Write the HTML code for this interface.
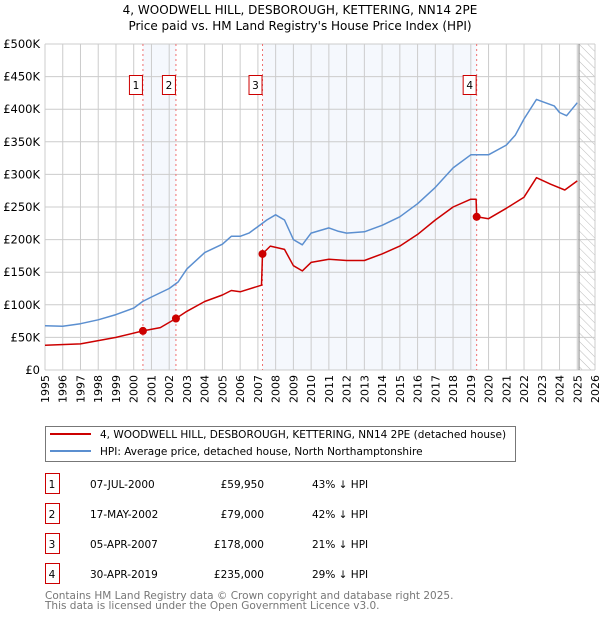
<!DOCTYPE html>
<html><head><meta charset="utf-8"><style>
body{margin:0;background:#fff;font-family:"DejaVu Sans","Liberation Sans",sans-serif;}
svg text{font-family:"DejaVu Sans","Liberation Sans",sans-serif;}
</style></head><body>
<svg width="600" height="620" viewBox="0 0 600 620">
<defs><pattern id="hatch" width="6" height="6" patternUnits="userSpaceOnUse" patternTransform="rotate(-45)"><line x1="0" y1="0" x2="0" y2="6" stroke="#bbb" stroke-width="1"/></pattern></defs>
<text x="300" y="14" text-anchor="middle" font-size="12">4, WOODWELL HILL, DESBOROUGH, KETTERING, NN14 2PE</text>
<text x="300" y="30" text-anchor="middle" font-size="12">Price paid vs. HM Land Registry's House Price Index (HPI)</text>
<g id="plot"></g>
<g>
<rect x="45.5" y="426.5" width="470" height="35" fill="#fff" stroke="#777"/>
<line x1="50" y1="434" x2="91" y2="434" stroke="#cc0000" stroke-width="2"/>
<text x="100" y="438" font-size="10.5">4, WOODWELL HILL, DESBOROUGH, KETTERING, NN14 2PE (detached house)</text>
<line x1="50" y1="451" x2="91" y2="451" stroke="#5b8fd0" stroke-width="2"/>
<text x="100" y="455" font-size="10.5">HPI: Average price, detached house, North Northamptonshire</text>
</g>
<g id="table" font-size="10.5"></g>
<text x="45" y="599" font-size="10.5" fill="#777">Contains HM Land Registry data © Crown copyright and database right 2025.</text>
<text x="45" y="609" font-size="10.5" fill="#777">This data is licensed under the Open Government Licence v3.0.</text>
</svg>
<script>
const hpiYears=[1995,1996,1997,1998,1999,2000,2000.5,2001,2002,2002.5,2003,2004,2005,2005.5,2006,2006.5,2007,2007.5,2008,2008.5,2009,2009.5,2010,2011,2011.5,2012,2013,2014,2015,2016,2017,2018,2019,2019.5,2020,2021,2021.5,2022,2022.7,2023,2023.7,2024,2024.4,2025];
const hpiValues=[68,67,71,77,85,95,105,112,125,135,155,180,193,205,205,210,220,230,238,230,200,192,210,218,213,210,212,222,235,255,280,310,330,330,330,345,360,385,415,412,405,395,390,410];
const ppYears=[1995,1997,1999,2000.52,2001.5,2002.38,2003,2004,2005,2005.5,2006,2007.2,2007.26,2007.7,2008.5,2009,2009.5,2010,2011,2012,2013,2014,2015,2016,2017,2018,2019,2019.3,2019.33,2020,2021,2022,2022.7,2023.5,2024.3,2025];
const ppValues=[38,40,50,59.95,65,79,90,105,115,122,120,130,178,190,185,160,152,165,170,168,168,178,190,208,230,250,262,262,235,232,248,265,295,285,276,290];
const saleLabels=["1","2","3","4"];
const saleDates=["07-JUL-2000","17-MAY-2002","05-APR-2007","30-APR-2019"];
const saleYears=[2000.52,2002.38,2007.26,2019.33];
const salePrices=[59950,79000,178000,235000];
const salePriceText=["£59,950","£79,000","£178,000","£235,000"];
const salePct=["43% ↓ HPI","42% ↓ HPI","21% ↓ HPI","29% ↓ HPI"];
const yTicks=[0,50,100,150,200,250,300,350,400,450,500];
const yTickLabels=["£0","£50K","£100K","£150K","£200K","£250K","£300K","£350K","£400K","£450K","£500K"];
const xTicks=[1995,1996,1997,1998,1999,2000,2001,2002,2003,2004,2005,2006,2007,2008,2009,2010,2011,2012,2013,2014,2015,2016,2017,2018,2019,2020,2021,2022,2023,2024,2025,2026];

const NS="http://www.w3.org/2000/svg";
const L=45,R=595,T=44,B=370;
const x=y=>L+(y-1995)*(R-L)/31;
const yv=v=>B-v*(B-T)/500;
function mk(tag,attrs,parent){const e=document.createElementNS(NS,tag);for(const k in attrs)e.setAttribute(k,attrs[k]);parent.appendChild(e);return e;}
const g=document.getElementById('plot');
let s=mk('rect',{x:x(saleYears[0]),y:T,width:x(saleYears[1])-x(saleYears[0]),height:B-T,fill:'#eef3fc',opacity:0.6},g);


s=mk('rect',{x:x(saleYears[2]),y:T,width:x(saleYears[3])-x(saleYears[2]),height:B-T,fill:'#eef3fc',opacity:0.6},g);


s=mk('rect',{x:x(2025.1),y:T,width:R-x(2025.1),height:B-T,fill:'url(#hatch)'},g);


yTicks.forEach((t,i)=>{
 const l=mk('line',{x1:L,x2:R,y1:yv(t),y2:yv(t),stroke:'#ccc','stroke-width':1},g);
 
 
 const tx=mk('text',{x:L-5,y:yv(t)+4,'text-anchor':'end','font-size':11.5},g);
 tx.textContent=yTickLabels[i];
 
 
});
xTicks.forEach(t=>{
 const l=mk('line',{x1:x(t),x2:x(t),y1:T,y2:B,stroke:'#ccc','stroke-width':1},g);
 
 
 const px=x(t)+4, py=375;
 const tx=mk('text',{x:px,y:py,'text-anchor':'end','font-size':11,transform:'rotate(-90 '+px+' '+py+')'},g);
 tx.textContent=t;
 
 
});
let v=mk('line',{x1:x(2025.1),x2:x(2025.1),y1:T,y2:B,stroke:'#999','stroke-width':1.2},g);


saleYears.forEach((sy,i)=>{
 const l=mk('line',{x1:x(sy),x2:x(sy),y1:T,y2:B,stroke:'#f07070','stroke-width':1,'stroke-dasharray':'2,3'},g);
 
 
 const bx=x(sy)-5-9;
 const r=mk('rect',{x:bx+0.5,y:75.5,width:13,height:19,fill:'#fff',stroke:'#cc0000'},g);
 
 
 const tx=mk('text',{x:bx+7,y:89,'text-anchor':'middle','font-size':10.5},g);
 tx.textContent=saleLabels[i];
 
 
});
function path(xs,vs,col,name){
 const d=xs.map((t,i)=>(i?'L':'M')+x(t).toFixed(1)+','+yv(vs[i]).toFixed(1)).join('');
 const p=mk('path',{d:d,fill:'none',stroke:col,'stroke-width':1.5,'stroke-linejoin':'round'},g);
 
 
}
path(hpiYears,hpiValues,'#5b8fd0','hpi-line');
path(ppYears,ppValues,'#cc0000','price-paid-line');
saleYears.forEach((sy,i)=>{
 const c=mk('circle',{cx:x(sy),cy:yv(salePrices[i]/1000),r:4,fill:'#cc0000'},g);
 
 
});
const tb=document.getElementById('table');
saleLabels.forEach((lb,i)=>{
 const cy=484+i*30;
 const r=mk('rect',{x:45.5,y:cy-10.5,width:14,height:20,fill:'#fff',stroke:'#cc0000'},tb);
 
 
 const vals=[[lb,52,'middle'],[saleDates[i],90,'start'],[salePriceText[i],264,'end'],[salePct[i],312,'start']];
 const names=['table-marker-label','table-sale-date','table-sale-price','table-hpi-diff'];
 vals.forEach((a,j)=>{
  const t=mk('text',{x:a[1],y:cy+4,'text-anchor':a[2]},tb);
  t.textContent=a[0];
  
  
 });
});
</script>
</body></html>
